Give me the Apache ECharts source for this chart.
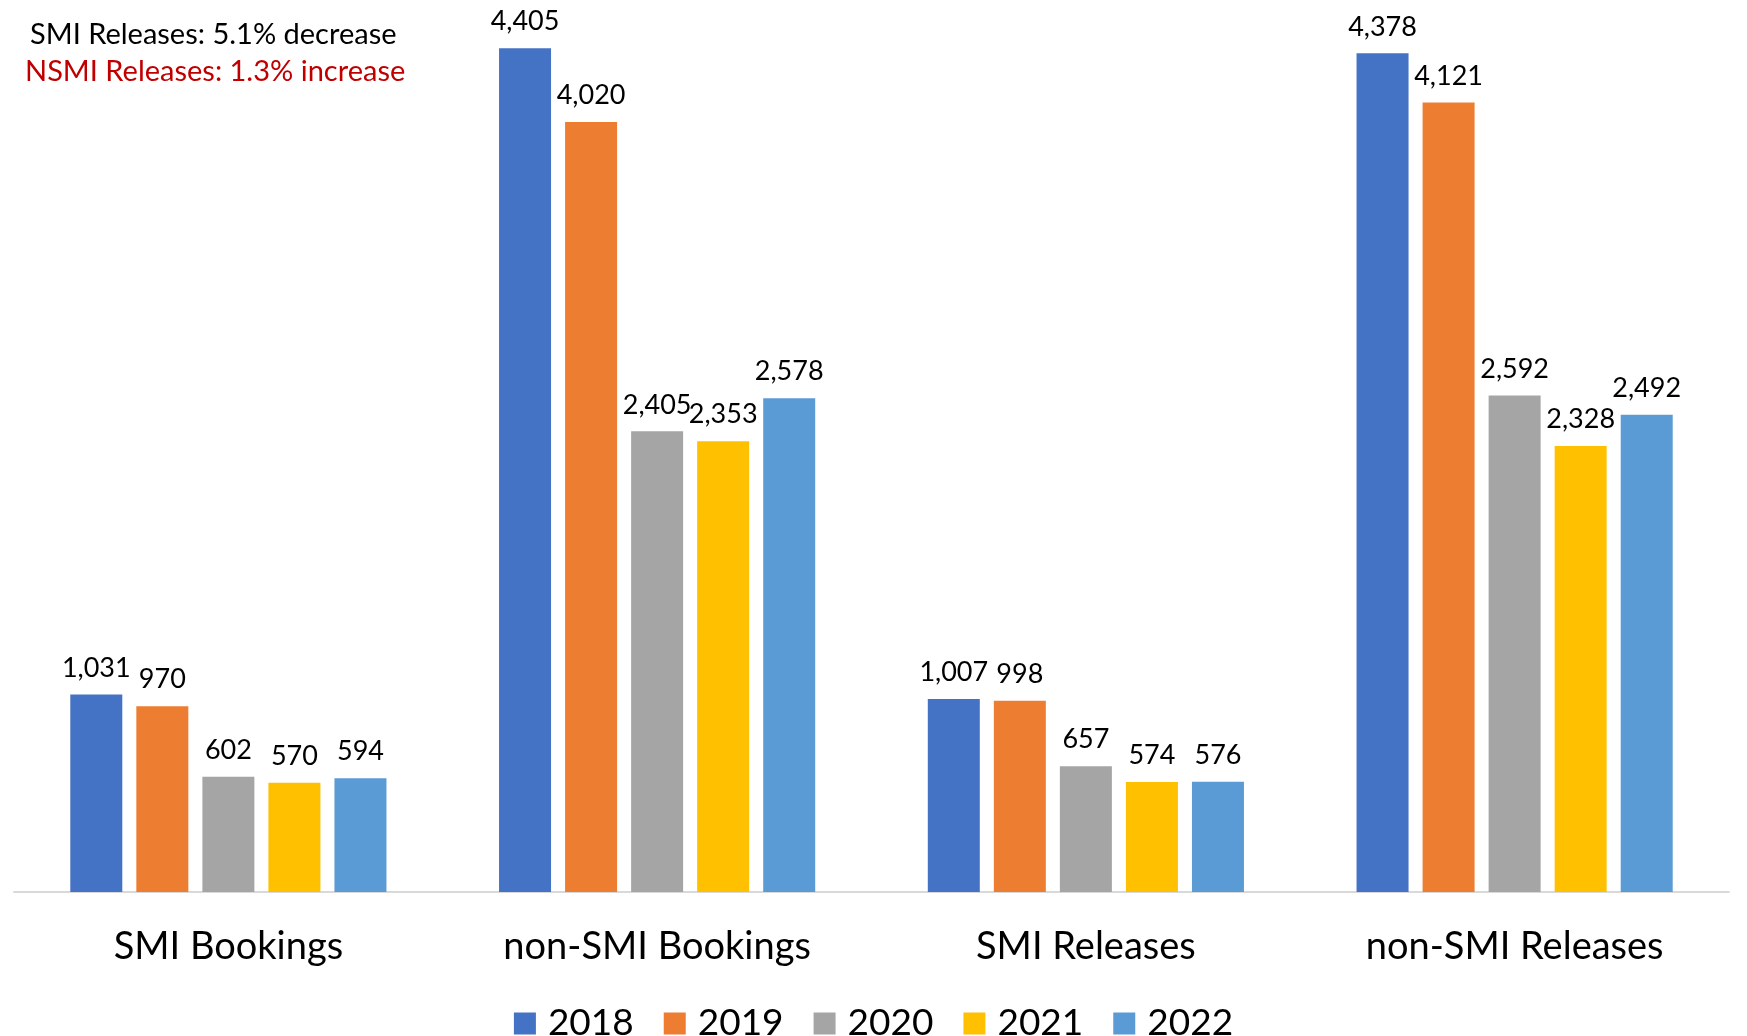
<!DOCTYPE html>
<html>
<head>
<meta charset="utf-8">
<title>SMI Bookings and Releases</title>
<script src="https://cdn.jsdelivr.net/npm/echarts@6/dist/echarts.min.js"></script>
<style>
  html, body {
    margin: 0;
    padding: 0;
    background: #fff;
  }
  #chart {
    width: 1747px;
    height: 1036px;
  }
</style>
</head>
<body>
<div id="chart"></div>
<script>
const categories = ["SMI Bookings", "non-SMI Bookings", "SMI Releases", "non-SMI Releases"];
const years = ["2018", "2019", "2020", "2021", "2022"];
const data2018 = [1031, 4405, 1007, 4378];
const data2019 = [970, 4020, 998, 4121];
const data2020 = [602, 2405, 657, 2592];
const data2021 = [570, 2353, 574, 2328];
const data2022 = [594, 2578, 576, 2492];
const yearData = [data2018, data2019, data2020, data2021, data2022];
const colors = ["#4472C4", "#ED7D31", "#A5A5A5", "#FFC000", "#5B9BD5"];
const noteLines = ["SMI Releases: 5.1% decrease", "NSMI Releases: 1.3% increase"];

const font = "Lato, 'Open Sans', sans-serif";

const series = years.map((year, i) => {
  return {
    name: year,
    type: "bar",
    data: yearData[i],
    barWidth: 52,
    barGap: "27%",
    itemStyle: { color: colors[i] },
    label: {
      show: true,
      position: "top",
      distance: 13,
      color: "#000",
      fontFamily: font,
      fontSize: 27,
      formatter: (p) => p.value.toLocaleString("en-US"),
    },
  };
});

const chart = echarts.init(document.getElementById("chart"));
const option = {
  animation: false,
  color: colors,
  grid: {
    left: 14,
    right: 18,
    top: 30,
    bottom: 144,
  },
  legend: {
    data: years,
    left: "center",
    top: 1000,
    itemWidth: 22,
    itemHeight: 22,
    itemGap: 30,
    icon: "rect",
    textStyle: {
      color: "#000",
      fontFamily: font,
      fontSize: 37,
      padding: [0, 0, 0, 7],
    },
  },
  graphic: [
    {
      type: "text",
      left: 30,
      top: 20,
      style: {
        text: noteLines[0],
        fill: "#000",
        font: "29px " + font,
      },
    },
    {
      type: "text",
      left: 25,
      top: 57,
      style: {
        text: noteLines[1],
        fill: "#C00000",
        font: "29px " + font,
      },
    },
  ],
  xAxis: {
    type: "category",
    data: categories,
    axisTick: { show: false },
    axisLine: {
      lineStyle: { color: "#D9D9D9", width: 2 },
    },
    axisLabel: {
      color: "#000",
      fontFamily: font,
      fontSize: 38,
      margin: 36,
    },
  },
  yAxis: {
    type: "value",
    min: 0,
    max: 4500,
    show: false,
    splitLine: { show: false },
  },
  series: series,
};
chart.setOption(option);
</script>
</body>
</html>
